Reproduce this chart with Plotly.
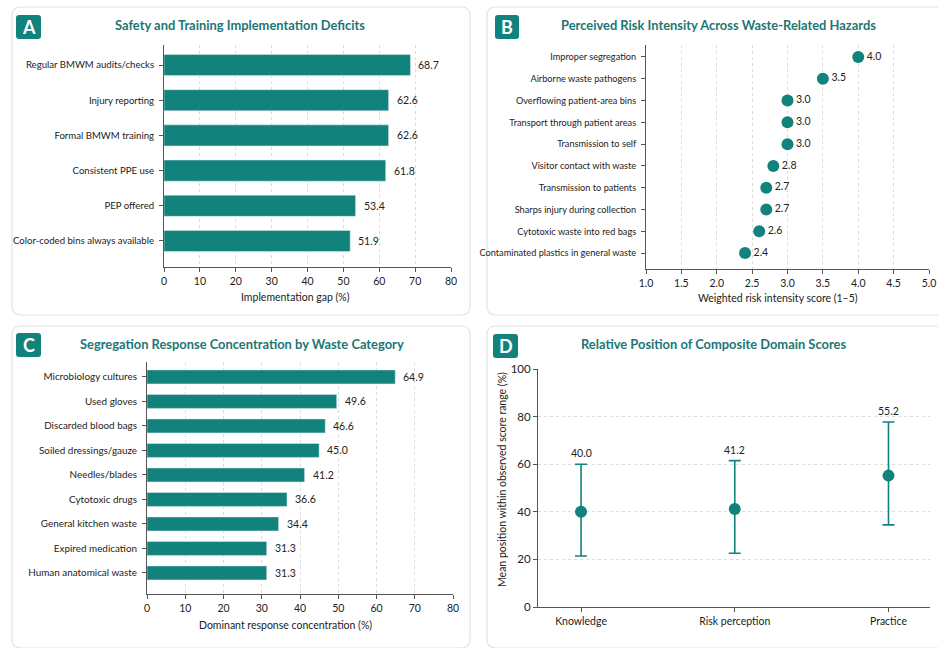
import plotly.graph_objects as go

# ---------------- data ----------------
a_categories = ["Regular BMWM audits/checks", "Injury reporting", "Formal BMWM training",
                "Consistent PPE use", "PEP offered", "Color-coded bins always available"]
a_values = [68.7, 62.6, 62.6, 61.8, 53.4, 51.9]

b_categories = ["Improper segregation", "Airborne waste pathogens", "Overflowing patient-area bins",
                "Transport through patient areas", "Transmission to self", "Visitor contact with waste",
                "Transmission to patients", "Sharps injury during collection",
                "Cytotoxic waste into red bags", "Contaminated plastics in general waste"]
b_values = [4.0, 3.5, 3.0, 3.0, 3.0, 2.8, 2.7, 2.7, 2.6, 2.4]

c_categories = ["Microbiology cultures", "Used gloves", "Discarded blood bags", "Soiled dressings/gauze",
                "Needles/blades", "Cytotoxic drugs", "General kitchen waste", "Expired medication",
                "Human anatomical waste"]
c_values = [64.9, 49.6, 46.6, 45.0, 41.2, 36.6, 34.4, 31.3, 31.3]

d_categories = ["Knowledge", "Risk perception", "Practice"]
d_means = [40.0, 41.2, 55.2]
d_upper = [60.0, 61.5, 77.7]
d_lower = [21.4, 22.6, 34.5]

# ---------------- style ----------------
W, H = 938, 648
TEAL = "#12827c"
TITLE_C = "#1c7675"
TEXT_C = "#222222"
AXIS_C = "#555555"
GRID_C = "#dcdcdc"
FONT = "Lato"
FS = 10.5


def px_x(x):
    return x / W


def px_y(y):
    return 1 - y / H


fig = go.Figure()

fig.add_trace(go.Bar(
    x=a_values, y=a_categories, orientation="h", marker_color=TEAL, width=0.6,
    xaxis="x", yaxis="y", showlegend=False))
for cat, v in zip(a_categories, a_values):
    fig.add_annotation(x=v, y=cat, xref="x", yref="y", text=f"{v:.1f}", showarrow=False,
                       xanchor="left", xshift=6, font=dict(size=FS, color=TEXT_C, family=FONT))

fig.add_trace(go.Scatter(
    x=b_values, y=b_categories, mode="markers+text", marker=dict(size=12, color=TEAL),
    text=[f"{v:.1f}" for v in b_values], textposition="middle right", cliponaxis=False,
    textfont=dict(size=FS, color=TEXT_C), xaxis="x2", yaxis="y2", showlegend=False))

fig.add_trace(go.Bar(
    x=c_values, y=c_categories, orientation="h", marker_color=TEAL, width=0.57,
    xaxis="x3", yaxis="y3", showlegend=False))
for cat, v in zip(c_categories, c_values):
    fig.add_annotation(x=v, y=cat, xref="x3", yref="y3", text=f"{v:.1f}", showarrow=False,
                       xanchor="left", xshift=6, font=dict(size=FS, color=TEXT_C, family=FONT))

fig.add_trace(go.Scatter(
    x=d_categories, y=d_means, mode="markers", marker=dict(size=12, color=TEAL),
    error_y=dict(type="data", symmetric=False,
                 array=[u - m for u, m in zip(d_upper, d_means)],
                 arrayminus=[m - l for m, l in zip(d_means, d_lower)],
                 color=TEAL, thickness=1.6, width=6),
    cliponaxis=False, xaxis="x4", yaxis="y4", showlegend=False))

for cat, up, m in zip(d_categories, d_upper, d_means):
    fig.add_annotation(x=cat, y=up, xref="x4", yref="y4", text=f"{m:.1f}", showarrow=False,
                       yanchor="bottom", yshift=3, font=dict(size=FS, color=TEXT_C, family=FONT))

common_x = dict(showline=True, linecolor=AXIS_C, linewidth=1, ticks="outside", ticklen=4,
                tickcolor=AXIS_C, tickfont=dict(size=FS, color=TEXT_C), showgrid=True,
                gridcolor=GRID_C, griddash="dot", zeroline=False, automargin=False)


def cat_y(size):
    return dict(showline=True, linecolor=AXIS_C, linewidth=1, ticks="outside", ticklen=4,
                tickcolor=AXIS_C, tickfont=dict(size=size, color=TEXT_C), showgrid=False,
                zeroline=False, type="category", automargin=False, ticklabelstandoff=3)


fig.update_layout(
    width=W, height=H, margin=dict(l=0, r=0, t=0, b=0),
    paper_bgcolor="white", plot_bgcolor="rgba(0,0,0,0)",
    font=dict(family=FONT, color=TEXT_C),
    xaxis=dict(domain=[px_x(164), px_x(451)], range=[0, 80], dtick=10, anchor="y", **common_x),
    yaxis=dict(domain=[px_y(267), px_y(45)], range=[5.74, -0.57], anchor="x", **cat_y(9.6)),
    xaxis2=dict(domain=[px_x(646), px_x(929)], range=[1, 5], dtick=0.5, tickformat=".1f",
                anchor="y2", **common_x),
    yaxis2=dict(domain=[px_y(269), px_y(45)], range=[9.73, -0.55], anchor="x2", **cat_y(9.2)),
    xaxis3=dict(domain=[px_x(147), px_x(453)], range=[0, 80], dtick=10, anchor="y3", **common_x),
    yaxis3=dict(domain=[px_y(594), px_y(362)], range=[8.86, -0.61], anchor="x3", **cat_y(9.9)),
    xaxis4=dict(domain=[px_x(538), px_x(930)], range=[-0.28, 2.27], anchor="y4", type="category",
                showline=True, linecolor=AXIS_C, linewidth=1, ticks="outside", ticklen=4,
                tickcolor=AXIS_C, tickfont=dict(size=FS, color=TEXT_C), showgrid=False,
                automargin=False),
    yaxis4=dict(domain=[px_y(607), px_y(369)], range=[0, 100], dtick=20, anchor="x4",
                showline=True, linecolor=AXIS_C, linewidth=1, ticks="outside", ticklen=4,
                tickcolor=AXIS_C, tickfont=dict(size=11.5, color=TEXT_C), showgrid=True,
                gridcolor=GRID_C, griddash="dot", zeroline=False, automargin=False),
)


def rounded_rect(x0, y0, x1, y1, r):
    X0, X1 = px_x(x0), px_x(x1)
    Y0, Y1 = px_y(y0), px_y(y1)
    rx, ry = r / W, r / H
    return (f"M {X0+rx},{Y0} L {X1-rx},{Y0} Q {X1},{Y0} {X1},{Y0-ry} "
            f"L {X1},{Y1+ry} Q {X1},{Y1} {X1-rx},{Y1} L {X0+rx},{Y1} "
            f"Q {X0},{Y1} {X0},{Y1+ry} L {X0},{Y0-ry} Q {X0},{Y0} {X0+rx},{Y0} Z")


cards = [(12, 7, 470, 315), (487, 7, 948, 315), (12, 326, 470, 648), (487, 326, 948, 648)]
for (x0, y0, x1, y1) in cards:
    fig.add_shape(type="path", path=rounded_rect(x0, y0, x1, y1, 9), xref="paper", yref="paper",
                  line=dict(color="#e2e4e4", width=1.2), fillcolor="white", layer="below")

badges = [("A", 16, 15, 41, 39), ("B", 495, 15, 519, 39), ("C", 16, 333, 41, 357), ("D", 493, 334, 518, 358)]
for (letter, x0, y0, x1, y1) in badges:
    fig.add_shape(type="path", path=rounded_rect(x0, y0, x1, y1, 3), xref="paper", yref="paper",
                  line=dict(width=0), fillcolor=TEAL, layer="above")
    fig.add_annotation(x=px_x((x0 + x1) / 2), y=px_y((y0 + y1) / 2), xref="paper", yref="paper",
                       text=f"<b>{letter}</b>", showarrow=False, xanchor="center", yanchor="middle",
                       font=dict(size=18, color="white", family=FONT))

titles = [("Safety and Training Implementation Deficits", 240, 25),
          ("Perceived Risk Intensity Across Waste-Related Hazards", 718, 25),
          ("Segregation Response Concentration by Waste Category", 242, 344),
          ("Relative Position of Composite Domain Scores", 713, 344)]
for (t, x, y) in titles:
    fig.add_annotation(x=px_x(x), y=px_y(y), xref="paper", yref="paper", text=f"<b>{t}</b>",
                       showarrow=False, xanchor="center", yanchor="middle",
                       font=dict(size=12.9, color=TITLE_C, family=FONT))

axis_titles = [("Implementation gap (%)", 295, 297, 0),
               ("Weighted risk intensity score (1–5)", 778, 298, 0),
               ("Dominant response concentration (%)", 285, 625, 0),
               ("Mean position within observed score range (%)", 502, 480, -90)]
for (t, x, y, ang) in axis_titles:
    fig.add_annotation(x=px_x(x), y=px_y(y), xref="paper", yref="paper", text=t, showarrow=False,
                       xanchor="center", yanchor="middle", textangle=ang,
                       font=dict(size=FS, color=TEXT_C, family=FONT))

fig.write_html("out.html")
